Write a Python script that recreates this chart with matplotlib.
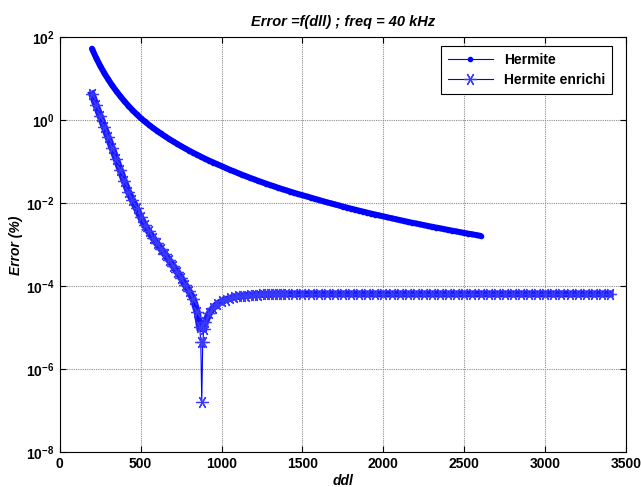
import numpy as np
import matplotlib
matplotlib.use("Agg")
import matplotlib.pyplot as plt

plt.rcParams['font.family'] = ['Liberation Sans', 'DejaVu Sans']
plt.rcParams['mathtext.fontset'] = 'custom'
plt.rcParams['mathtext.rm'] = 'Liberation Sans:bold'
plt.rcParams['mathtext.bf'] = 'Liberation Sans:bold'

# Hermite : ddl 200 -> 2600, pas de 25
ddl_h = np.arange(200, 2601, 25)
err_h = [53.7, 32.7, 21.0, 14.1, 9.77, 6.98, 5.12, 3.83, 2.92, 2.26,
         1.78, 1.42, 1.15, 0.951, 0.796, 0.670, 0.569, 0.486, 0.418, 0.361,
         0.314, 0.275, 0.241, 0.212, 0.188, 0.167, 0.149, 0.133, 0.119, 0.107,
         0.0970, 0.0878, 0.0794, 0.0720, 0.0653, 0.0595, 0.0543, 0.0496, 0.0454, 0.0417,
         0.0383, 0.0353, 0.0325, 0.0301, 0.0278, 0.0258, 0.0239, 0.0222, 0.0207, 0.0193,
         0.0180, 0.0168, 0.0158, 0.0148, 0.0139, 0.0130, 0.0122, 0.0114, 0.0107, 0.0101,
         0.00949, 0.00894, 0.00842, 0.00794, 0.00750, 0.00709, 0.00671, 0.00635, 0.00601, 0.00570,
         0.00541, 0.00513, 0.00488, 0.00463, 0.00441, 0.00419, 0.00399, 0.00380, 0.00362, 0.00345,
         0.00330, 0.00315, 0.00301, 0.00287, 0.00275, 0.00263, 0.00252, 0.00241, 0.00231, 0.00221,
         0.00212, 0.00203, 0.00195, 0.00187, 0.00180, 0.00173, 0.00166]

# Hermite enrichi : maillage plus fin autour du minimum (~878 ddl)
ddl_e = np.concatenate([np.arange(200, 851, 25),
                        [865, 872, 878, 884, 891],
                        np.arange(900, 1401, 25),
                        np.arange(1450, 3401, 50)])
err_e = [4.27, 2.34, 1.29, 0.708, 0.389, 0.214, 0.117, 0.0631, 0.0339, 0.0191,
         0.0120, 0.00759, 0.00468, 0.00302, 0.00214, 0.00151, 0.00110, 8.13e-4, 6.03e-4, 4.37e-4,
         3.16e-4, 2.29e-4, 1.62e-4, 1.10e-4, 7.6e-5, 5.0e-5, 2.4e-5,
         1.05e-5, 4.5e-6, 1.6e-7, 4.5e-6, 9.5e-6,
         1.38e-5, 2.29e-5, 3.09e-5, 3.80e-5, 4.37e-5, 4.79e-5, 5.13e-5, 5.50e-5, 5.75e-5, 5.89e-5,
         6.03e-5, 6.17e-5, 6.31e-5, 6.31e-5, 6.46e-5, 6.46e-5, 6.46e-5, 6.61e-5, 6.61e-5, 6.61e-5,
         6.61e-5,
         6.6e-5, 6.6e-5, 6.6e-5, 6.6e-5, 6.6e-5, 6.6e-5, 6.6e-5, 6.6e-5, 6.6e-5, 6.6e-5,
         6.6e-5, 6.6e-5, 6.6e-5, 6.6e-5, 6.6e-5, 6.6e-5, 6.6e-5, 6.6e-5, 6.6e-5, 6.6e-5,
         6.6e-5, 6.6e-5, 6.6e-5, 6.6e-5, 6.6e-5, 6.6e-5, 6.6e-5, 6.6e-5, 6.6e-5, 6.6e-5,
         6.6e-5, 6.6e-5, 6.6e-5, 6.6e-5, 6.6e-5, 6.6e-5, 6.6e-5, 6.6e-5, 6.6e-5, 6.6e-5]

xticks = [0, 500, 1000, 1500, 2000, 2500, 3000, 3500]
yticks = [1e-8, 1e-6, 1e-4, 1e-2, 1e0, 1e2]
ylabels = [r'$\mathbf{10^{-8}}$', r'$\mathbf{10^{-6}}$', r'$\mathbf{10^{-4}}$',
           r'$\mathbf{10^{-2}}$', r'$\mathbf{10^{0}}$', r'$\mathbf{10^{2}}$']

fig = plt.figure(figsize=(6.41, 4.87), dpi=100)
ax = fig.add_axes([0.093, 0.071, 0.884, 0.852])

# bandes epaisses (points tres serres), sans le pic du minimum
ddl_e = np.asarray(ddl_e)
err_e = np.asarray(err_e)
left = ddl_e <= 865
right = ddl_e >= 891
ax.semilogy(ddl_h, err_h, color='b', lw=4.3, solid_capstyle='round', label='_nolegend_')
ax.semilogy(ddl_e[left], err_e[left], color='#1a1aff', lw=5.2, label='_nolegend_')
ax.semilogy(ddl_e[right], err_e[right], color='#1a1aff', lw=5.2, label='_nolegend_')

ax.semilogy(ddl_h, err_h, color='b', lw=0.8, marker='.', ms=6, label='Hermite')
ax.semilogy(ddl_e, err_e, color='b', lw=0.8, marker=(6, 2, 90), ms=9, mew=0.9,
            markeredgecolor='#3a3aff', label='Hermite enrichi')

ax.set_xlim(0, 3500)
ax.set_ylim(1e-8, 1e2)
ax.set_xticks(xticks)
ax.set_yticks(yticks)
ax.set_yticklabels(ylabels)
ax.minorticks_off()
ax.grid(True, color='0.55', linestyle=(0, (1, 1)), lw=0.8)
ax.tick_params(direction='in', top=True, right=True, length=4, labelsize=10)
for lab in ax.get_xticklabels():
    lab.set_fontweight('bold')
for s in ax.spines.values():
    s.set_linewidth(0.8)

ax.set_title('Error =f(dll) ; freq = 40 kHz', fontsize=10.5, fontweight='bold',
             style='italic', pad=8)
ax.set_xlabel('ddl', fontsize=10, fontweight='bold', style='italic', labelpad=2)
ax.set_ylabel('Error (%)', fontsize=10, fontweight='bold', style='italic', labelpad=2)

leg = ax.legend(loc='upper right', bbox_to_anchor=(612 / 641, 1 - 46 / 487),
                bbox_transform=fig.transFigure, borderaxespad=0, fancybox=False,
                edgecolor='k', framealpha=1, prop={'weight': 'bold', 'size': 10},
                handlelength=3.2, borderpad=0.5, labelspacing=0.45)
leg.get_frame().set_linewidth(0.8)

fig.savefig('out.png', dpi=100)
